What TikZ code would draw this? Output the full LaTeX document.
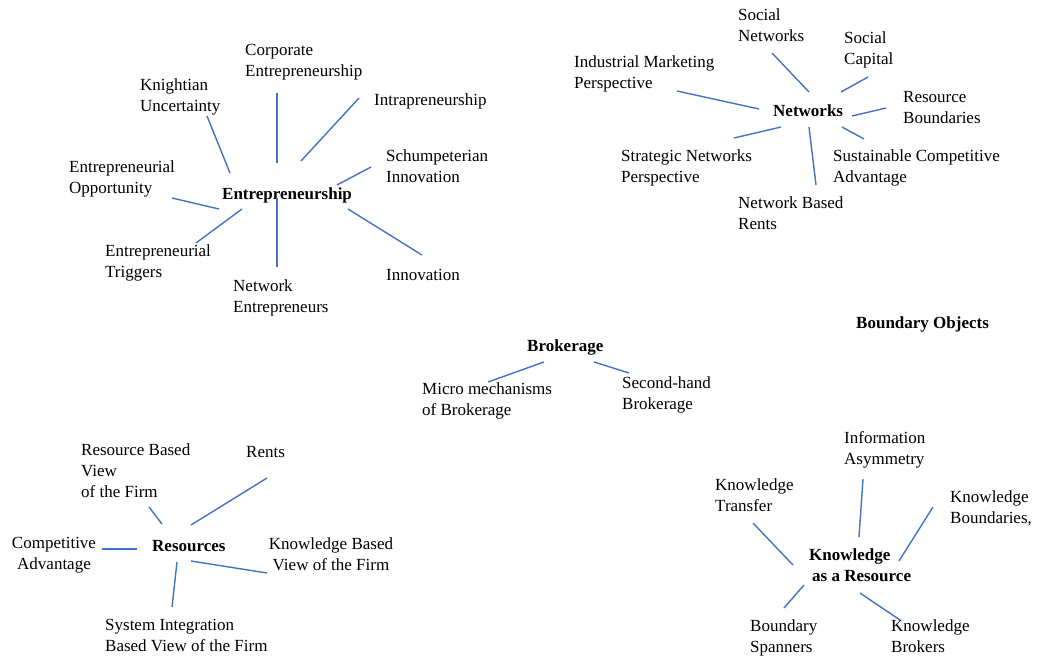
\documentclass[tikz,border=0pt]{standalone}
\usepackage{fontspec}
\setmainfont{Liberation Serif}
\definecolor{linkblue}{RGB}{68,114,196}
\begin{document}
\begin{tikzpicture}[x=1pt,y=-1pt,
  lbl/.style={anchor=north west,inner sep=0pt,align=left,
    font=\fontsize{17}{21}\selectfont,execute at begin node=\strut},
  lblc/.style={lbl,anchor=north,align=center},
  hub/.style={lbl,font=\fontsize{17}{21}\selectfont\bfseries},
  link/.style={draw=linkblue,line width=1.4pt}]
% canvas
\fill[white] (0,0) rectangle (1041,659);
\useasboundingbox (0,0) rectangle (1041,659);
% offset from a node's top edge to its first baseline
\def\up{12}

% ---------- Entrepreneurship ----------
\node[hub] (eHub)   at (222,197-\up) {Entrepreneurship};
\node[lbl] (eCorp)  at (245,56-\up)  {Corporate\\Entrepreneurship};
\node[lbl] (eKnight) at (140,91-\up) {Knightian\\Uncertainty};
\node[lbl] (eIntra) at (374,103-\up) {Intrapreneurship};
\node[lbl] (eSchump) at (386,162-\up) {Schumpeterian\\Innovation};
\node[lbl] (eOpp)   at (69,173-\up)  {Entrepreneurial\\Opportunity};
\node[lbl] (eTrig)  at (105,256-\up) {Entrepreneurial\\Triggers};
\node[lbl] (eNet)   at (233,291-\up) {Network\\Entrepreneurs};
\node[lbl] (eInno)  at (386,278-\up) {Innovation};

\coordinate (eKa) at (207,116); \coordinate (eKb) at (230,173);
\coordinate (eCa) at (277,93);  \coordinate (eCb) at (277,163);
\coordinate (eIa) at (359,98);  \coordinate (eIb) at (301,161);
\coordinate (eSa) at (371,167); \coordinate (eSb) at (337,185);
\coordinate (eOa) at (172,198); \coordinate (eOb) at (219,209);
\coordinate (eTa) at (242,209); \coordinate (eTb) at (196,243);
\coordinate (eNa) at (277,198); \coordinate (eNb) at (277,267);
\coordinate (eVa) at (348,209); \coordinate (eVb) at (422,255);
\foreach \p in {eK,eC,eI,eS,eO,eT,eN,eV} \draw[link] (\p a) -- (\p b);

% ---------- Networks ----------
\node[hub] (nHub)   at (773,114-\up) {Networks};
\node[lbl] (nSoc)   at (738,21-\up)  {Social\\Networks};
\node[lbl] (nCap)   at (844,44-\up)  {Social\\Capital};
\node[lbl] (nInd)   at (574,68-\up)  {Industrial Marketing\\Perspective};
\node[lbl] (nRes)   at (903,103-\up) {Resource\\Boundaries};
\node[lbl] (nStrat) at (621,162-\up) {Strategic Networks\\Perspective};
\node[lbl] (nSust)  at (833,162-\up) {Sustainable Competitive\\Advantage};
\node[lbl] (nRent)  at (738,208-\up) {Network Based\\Rents};

\coordinate (nSa) at (772,53);  \coordinate (nSb) at (809,92);
\coordinate (nCa) at (868,77);  \coordinate (nCb) at (841,92);
\coordinate (nIa) at (677,91);  \coordinate (nIb) at (759,109);
\coordinate (nRa) at (886,108); \coordinate (nRb) at (852,116);
\coordinate (nPa) at (781,127); \coordinate (nPb) at (734,138);
\coordinate (nNa) at (809,127); \coordinate (nNb) at (816,185);
\coordinate (nUa) at (842,127); \coordinate (nUb) at (864,139);
\foreach \p in {nS,nC,nI,nR,nP,nN,nU} \draw[link] (\p a) -- (\p b);

% ---------- Brokerage ----------
\node[hub] (bHub)    at (527,349-\up) {Brokerage};
\node[lbl] (bMicro)  at (422,394-\up) {Micro mechanisms\\of Brokerage};
\node[lbl] (bSecond) at (622,388-\up) {Second-hand\\Brokerage};
\coordinate (bMa) at (544,362); \coordinate (bMb) at (488,382);
\coordinate (bSa) at (594,362); \coordinate (bSb) at (629,373);
\draw[link] (bMa) -- (bMb);
\draw[link] (bSa) -- (bSb);

% ---------- Boundary Objects ----------
\node[hub] (bObj) at (856,326-\up) {Boundary Objects};

% ---------- Resources ----------
\node[hub]  (rHub)   at (152,549-\up) {Resources};
\node[lbl]  (rRBV)   at (81,455-\up)  {Resource Based\\View\\of the Firm};
\node[lbl]  (rRents) at (246,455-\up) {Rents};
\node[lblc] (rComp)  at (54,549-\up)  {Competitive\\Advantage};
\node[lblc] (rKBV)   at (331,549-\up) {Knowledge Based\\View of the Firm};
\node[lbl]  (rSys)   at (105,631-\up) {System Integration\\Based View of the Firm};

\coordinate (rBa) at (149,507); \coordinate (rBb) at (162,524);
\coordinate (rRa) at (267,478); \coordinate (rRb) at (191,525);
\coordinate (rCa) at (102,549); \coordinate (rCb) at (137,549);
\coordinate (rKa) at (191,561); \coordinate (rKb) at (267,573);
\coordinate (rSa) at (177,562); \coordinate (rSb) at (172,607);
\foreach \p in {rB,rR,rC,rK,rS} \draw[link] (\p a) -- (\p b);

% ---------- Knowledge as a Resource ----------
\node[hub] (kHub)   at (809,560-\up) {Knowledge\\\hspace{3pt}as a Resource};
\node[lbl] (kInfo)  at (844,443-\up) {Information\\Asymmetry};
\node[lbl] (kTrans) at (715,490-\up) {Knowledge\\Transfer};
\node[lbl] (kBound) at (950,502-\up) {Knowledge\\Boundaries,};
\node[lbl] (kSpan)  at (750,631-\up) {Boundary\\Spanners};
\node[lbl] (kBrok)  at (891,631-\up) {Knowledge\\Brokers};

\coordinate (kIa) at (863,479); \coordinate (kIb) at (859,537);
\coordinate (kTa) at (753,523); \coordinate (kTb) at (793,565);
\coordinate (kBa) at (933,507); \coordinate (kBb) at (899,561);
\coordinate (kSa) at (804,585); \coordinate (kSb) at (784,608);
\coordinate (kKa) at (860,593); \coordinate (kKb) at (900,620);
\foreach \p in {kI,kT,kB,kS,kK} \draw[link] (\p a) -- (\p b);
\end{tikzpicture}
\end{document}
